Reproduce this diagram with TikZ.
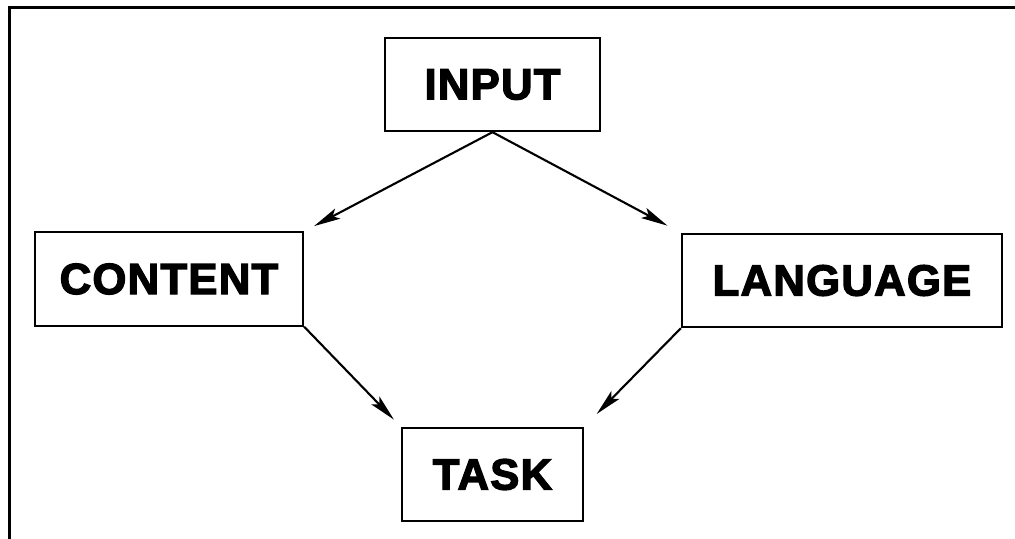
\documentclass[tikz,border=0pt]{standalone}
\usepackage{fontspec}
\newfontfamily\heavyfont[FakeBold=3, LetterSpace=3]{Liberation Sans Bold}
\usepackage{tikz}
\usetikzlibrary{arrows.meta, positioning}
\tikzset{
  % plain boxed label
  tbox/.style={
    rectangle, draw=black, line width=1.5pt,
    fill=white, align=center,
    minimum height=2.33cm, inner sep=0pt,
    font=\heavyfont\fontsize{31}{31}\selectfont
  },
  % arrows
  arr/.style={-{Stealth[length=19pt,width=8pt,inset=4pt]}, line width=1.5pt, black},
}

\begin{document}
\begin{tikzpicture}[x=0.025cm, y=-0.025cm]

  \useasboundingbox (0,0) rectangle (1015,539);

  % frame (top and left edges only)
  \draw[line width=2.8pt] (1015,7.5) -- (9.5,7.5) -- (9.5,539);

  \node[tbox, minimum width=5.375cm] (input)    at (492.5,84.5) {INPUT};
  \node[tbox, minimum width=6.7cm]   (content)  at (169,279)    {CONTENT};
  \node[tbox, minimum width=8.0cm]   (language) at (842,280.5)  {LANGUAGE};
  \node[tbox, minimum width=4.525cm] (task)     at (492.5,474.5) {TASK};

  %% Arrows
  \draw[arr, shorten >=0.28cm] (input.south) -- (content.north east);
  \draw[arr, shorten >=0.38cm] (input.south) -- (language.north west);
  \draw[arr, shorten >=0.25cm] (content.south east) -- (task.north west);
  \draw[arr, shorten >=0.45cm] (language.south west) -- (task.north east);

\end{tikzpicture}
\end{document}
